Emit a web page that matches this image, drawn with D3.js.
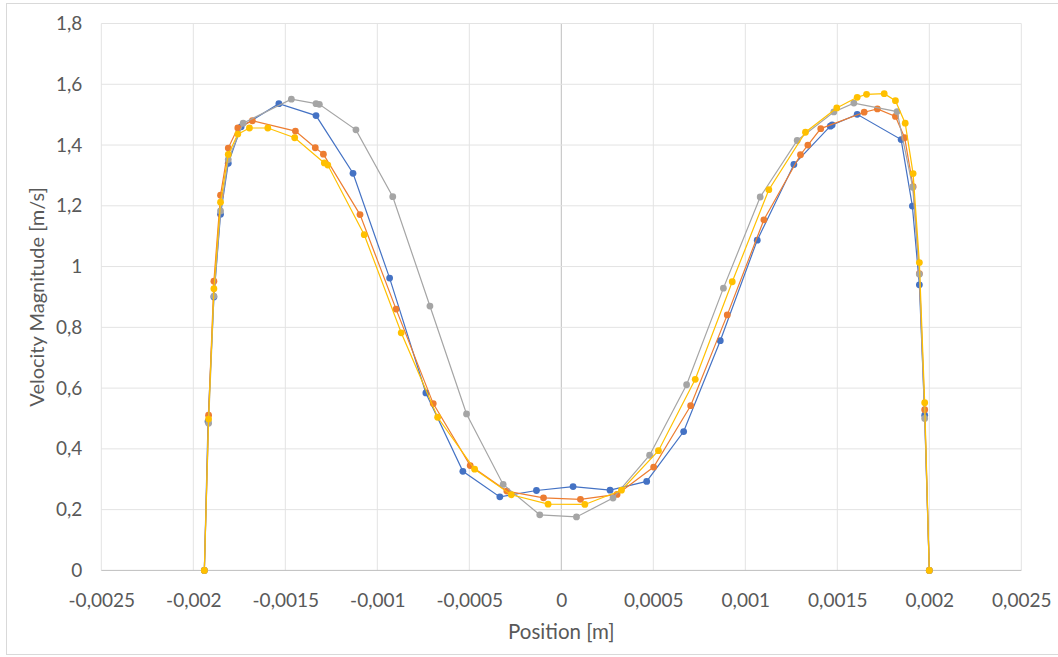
<!DOCTYPE html>
<html>
<head>
<meta charset="utf-8">
<script src="https://cdn.jsdelivr.net/npm/d3@7"></script>
<style>
  body { margin: 0; background: #fff; }
  text { font-family: Lato, "Open Sans", sans-serif; fill: #595959; }
</style>
</head>
<body>
<div id="chart"></div>
<script>
// series data (position [m], velocity [m/s])
var blueX = [-0.00194, -0.00192, -0.001888, -0.001852, -0.00181, -0.00174, -0.001535, -0.001333, -0.001132, -0.000933, -0.000736, -0.000535, -0.000334, -0.000135, 0.000064, 0.000265, 0.000464, 0.000665, 0.000864, 0.001065, 0.001264, 0.001462, 0.001472, 0.001608, 0.001847, 0.001908, 0.001946, 0.001975, 0.002]
var blueY = [0, 0.49, 0.90, 1.172, 1.34, 1.46, 1.536, 1.497, 1.307, 0.962, 0.584, 0.326, 0.242, 0.263, 0.276, 0.264, 0.293, 0.457, 0.756, 1.087, 1.336, 1.462, 1.466, 1.501, 1.418, 1.199, 0.94, 0.511, 0]

var orangeX = [-0.00194, -0.001917, -0.001888, -0.001852, -0.00181, -0.001758, -0.001679, -0.001445, -0.001337, -0.001293, -0.001094, -0.000898, -0.000696, -0.000495, -0.000296, -0.0000966, 0.000104, 0.000303, 0.000502, 0.000703, 0.000902, 0.001101, 0.0013, 0.00134, 0.00141, 0.001646, 0.001718, 0.001816, 0.001866, 0.001912, 0.001946, 0.001975, 0.002]
var orangeY = [0, 0.511, 0.952, 1.235, 1.39, 1.456, 1.48, 1.446, 1.391, 1.37, 1.171, 0.86, 0.549, 0.345, 0.261, 0.239, 0.234, 0.25, 0.34, 0.542, 0.841, 1.154, 1.368, 1.4, 1.454, 1.508, 1.519, 1.494, 1.424, 1.263, 0.977, 0.529, 0]

var grayX = [-0.00194, -0.001917, -0.001888, -0.001852, -0.00181, -0.001729, -0.001467, -0.001333, -0.001315, -0.001116, -0.000916, -0.000714, -0.000515, -0.000316, -0.000117, 0.0000825, 0.000281, 0.00048, 0.000681, 0.000881, 0.001081, 0.001282, 0.001481, 0.00159, 0.001825, 0.00191, 0.001946, 0.001975, 0.002]
var grayY = [0, 0.484, 0.903, 1.183, 1.352, 1.472, 1.551, 1.536, 1.534, 1.45, 1.23, 0.87, 0.515, 0.283, 0.183, 0.176, 0.238, 0.379, 0.611, 0.929, 1.229, 1.415, 1.509, 1.538, 1.51, 1.261, 0.975, 0.5, 0]

var yellowX = [-0.00194, -0.001917, -0.001888, -0.001852, -0.00181, -0.001758, -0.001695, -0.001595, -0.001449, -0.001288, -0.001269, -0.001071, -0.00087, -0.000672, -0.000471, -0.000272, -0.0000717, 0.000128, 0.000327, 0.000528, 0.000728, 0.000929, 0.001128, 0.001327, 0.001497, 0.001608, 0.001659, 0.001755, 0.001816, 0.001869, 0.001912, 0.001946, 0.001975, 0.002]
var yellowY = [0, 0.498, 0.927, 1.212, 1.369, 1.436, 1.456, 1.456, 1.424, 1.341, 1.334, 1.105, 0.782, 0.504, 0.333, 0.249, 0.218, 0.217, 0.264, 0.394, 0.629, 0.95, 1.253, 1.442, 1.522, 1.557, 1.567, 1.569, 1.546, 1.472, 1.306, 1.013, 0.552, 0]

var xTicks = [-0.0025, -0.002, -0.0015, -0.001, -0.0005, 0, 0.0005, 0.001, 0.0015, 0.002, 0.0025]
var yTicks = [0, 0.2, 0.4, 0.6, 0.8, 1, 1.2, 1.4, 1.6, 1.8]

const svgWidth = 1058
const svgHeight = 657
const margin = { top: 23.5, right: 36.7, bottom: 86.6, left: 101.3 }
const graphWidth = svgWidth - margin.left - margin.right
const graphHeight = svgHeight - margin.top - margin.bottom

var series = [
  { xs: blueX, ys: blueY, color: '#4472C4' },
  { xs: orangeX, ys: orangeY, color: '#ED7D31' },
  { xs: grayX, ys: grayY, color: '#A5A5A5' },
  { xs: yellowX, ys: yellowY, color: '#FFC000' }
]

// comma as decimal separator
const fmt = d => (+d.toFixed(4)).toString().replace('.', ',')

var svg = d3.select('#chart').append('svg')
  .attr('width', svgWidth)
  .attr('height', svgHeight)

// chart area border
svg.append('rect')
  .attr('x', 6.5).attr('y', 3.5)
  .attr('width', 1100).attr('height', 651)
  .attr('fill', 'none')
  .attr('stroke', '#D9D9D9')

var graph = svg.append('g')
  .attr('transform', `translate(${margin.left}, ${margin.top})`)

const x = d3.scaleLinear().domain([-0.0025, 0.0025]).range([0, graphWidth])
const y = d3.scaleLinear().domain([0, 1.8]).range([graphHeight, 0])

// gridlines
graph.append('g')
  .selectAll('line')
  .data(xTicks)
  .enter().append('line')
  .attr('x1', d => x(d)).attr('x2', d => x(d))
  .attr('y1', 0).attr('y2', graphHeight)
  .attr('stroke', d => d === 0 ? '#BFBFBF' : '#E3E3E3')
  .attr('stroke-width', 1)

graph.append('g')
  .selectAll('line')
  .data(yTicks)
  .enter().append('line')
  .attr('x1', 0).attr('x2', graphWidth)
  .attr('y1', d => y(d)).attr('y2', d => y(d))
  .attr('stroke', d => d === 0 ? '#BFBFBF' : '#E3E3E3')
  .attr('stroke-width', 1)

// axes (labels only, lines are drawn as gridlines)
var xAxisGroup = graph.append('g')
  .attr('transform', `translate(0, ${graphHeight + 20})`)
  .call(d3.axisBottom(x).tickValues(xTicks).tickFormat(fmt).tickSize(0))
xAxisGroup.select('.domain').remove()
xAxisGroup.selectAll('text')
  .attr('font-size', 19)
  .attr('fill', '#595959')
  .attr('font-family', 'Lato, sans-serif')

var yAxisGroup = graph.append('g')
  .attr('transform', `translate(-16, 0)`)
  .call(d3.axisLeft(y).tickValues(yTicks).tickFormat(fmt).tickSize(0))
yAxisGroup.select('.domain').remove()
yAxisGroup.selectAll('text')
  .attr('font-size', 19)
  .attr('fill', '#595959')
  .attr('font-family', 'Lato, sans-serif')

// axis titles
svg.append('text')
  .attr('text-anchor', 'middle')
  .attr('x', margin.left + x(0))
  .attr('y', 639)
  .attr('font-size', 20.5)
  .text('Position [m]')

svg.append('text')
  .attr('text-anchor', 'middle')
  .attr('transform', 'rotate(-90)')
  .attr('x', -(margin.top + graphHeight / 2))
  .attr('y', 44)
  .attr('font-size', 20)
  .text('Velocity Magnitude [m/s]')

// lines and markers
const line = d3.line()
  .x(d => x(d[0]))
  .y(d => y(d[1]))

series.forEach(s => {
  var pts = s.xs.map((v, i) => [v, s.ys[i]])
  var g = graph.append('g')
  g.append('path')
    .datum(pts)
    .attr('d', line)
    .attr('fill', 'none')
    .attr('stroke', s.color)
    .attr('stroke-width', 1.2)
  g.selectAll('circle')
    .data(pts)
    .enter().append('circle')
    .attr('cx', d => x(d[0]))
    .attr('cy', d => y(d[1]))
    .attr('r', 3.4)
    .attr('fill', s.color)
})
</script>
</body>
</html>
